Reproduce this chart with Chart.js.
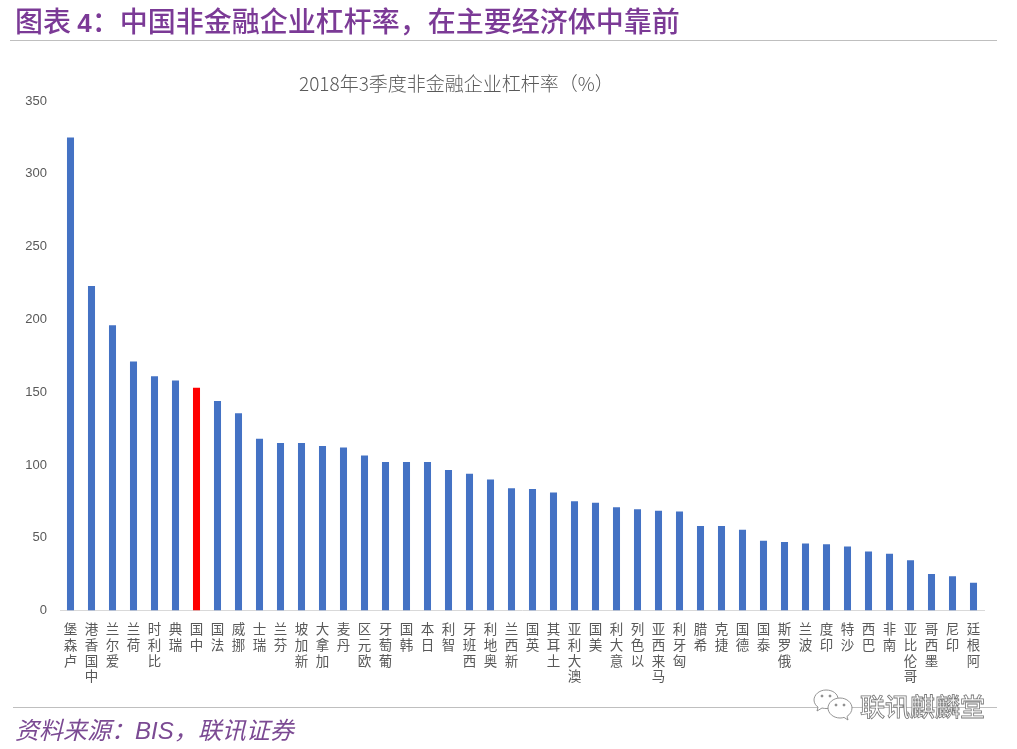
<!DOCTYPE html>
<html><head><meta charset="utf-8">
<style>
html,body{margin:0;padding:0;background:#fff;width:1017px;height:749px;overflow:hidden}
#wrap{position:relative;width:1017px;height:749px}
canvas{position:absolute;left:0;top:0}
.t{position:absolute;white-space:nowrap}
#head{left:15px;top:3px;font:500 28px/34px "Noto Sans CJK SC";color:#7B3A96}
#head b{font:700 26px/34px "Liberation Sans";color:#7B3A96}
#r1{position:absolute;left:10px;top:40px;width:987px;height:1px;background:#bfbfbf}
#r2{position:absolute;left:13px;top:707px;width:984px;height:1px;background:#bfbfbf}
#sub{left:299px;top:70px;font:300 19px/26px "Noto Sans CJK SC";color:#595959}
#src{left:15px;top:713px;font:italic 24px/32px "Noto Sans CJK SC";color:#7B4A93}
#src i{font:italic 24px/32px "Liberation Sans"}
#wm{left:860px;top:690px;font:500 25px/30px "Noto Sans CJK SC";color:#fff;-webkit-text-stroke:0.8px #777}
#ic{position:absolute;left:812px;top:688px}
</style></head><body>
<div id="wrap">
<canvas id="c" width="1017" height="749" style="width:1017px;height:749px"></canvas>
<div id="head" class="t">图表 <b>4</b>：中国非金融企业杠杆率，在主要经济体中靠前</div>
<div id="r1"></div>
<div id="sub" class="t">2018年3季度非金融企业杠杆率（%）</div>
<div id="r2"></div>
<div id="src" class="t">资料来源：<i>BIS</i>，联讯证券</div>
<svg id="ic" width="44" height="34" viewBox="0 0 44 34" fill="#fff" stroke="#888" stroke-width="0.9">
<path d="M14 2C7 2 2 7 2 12c0 3 2 6 4 7l-1 4 5-3c2 .5 3 .5 5 .5C22 20 26 16 26 11S21 2 14 2z"/>
<path d="M28 10c-7 0-12 5-12 10s5 10 12 10c1.500 0 3-.2 4-.6l4 2.600-1-3.600c3-2 5-5 5-8.400 0-5-5-10-12-10z"/>
<circle cx="10" cy="8" r="1" fill="#888"/><circle cx="18" cy="8" r="1" fill="#888"/>
<circle cx="24" cy="17" r="1" fill="#888"/><circle cx="32" cy="17" r="1" fill="#888"/>
</svg>
<div id="wm" class="t">联讯麒麟堂</div>
</div>
<script src="https://cdn.jsdelivr.net/npm/chart.js@4"></script>
<script>
const categories=["卢森堡","中国香港","爱尔兰","荷兰","比利时","瑞典","中国","法国","挪威","瑞士","芬兰","新加坡","加拿大","丹麦","欧元区","葡萄牙","韩国","日本","智利","西班牙","奥地利","新西兰","英国","土耳其","澳大利亚","美国","意大利","以色列","马来西亚","匈牙利","希腊","捷克","德国","泰国","俄罗斯","波兰","印度","沙特","巴西","南非","哥伦比亚","墨西哥","印尼","阿根廷"];
const leverage=[325,223,196,171,161,158,153,144,135.5,118,115,115,113,112,106.5,102,102,102,96.5,94,90,84,83.5,81,75,74,71,69.5,68.5,68,58,58,55.5,48,47,46,45.5,44,40.5,39,34.5,25,23.5,19];
const highlight="中国";
const blue="#4472C4",red="#FF0000",grey="#595959";
new Chart(document.getElementById("c"),{
 type:"bar",
 data:{labels:categories.map(s=>[...s].reverse()),
  datasets:[{data:leverage,backgroundColor:categories.map(c=>c===highlight?red:blue),barPercentage:0.335,categoryPercentage:1}]},
 options:{responsive:false,animation:false,devicePixelRatio:1,
  layout:{padding:{top:101,left:0,right:33,bottom:0}},
  plugins:{legend:{display:false},tooltip:{enabled:false},title:{display:false}},
  scales:{
   x:{grid:{display:false,drawTicks:false},border:{color:"#d9d9d9"},
      afterFit(s){s.height=138.5},
      ticks:{maxRotation:0,minRotation:0,autoSkip:false,padding:11,color:grey,font:{family:"Noto Sans CJK SC",size:13.5,lineHeight:1.16}}},
   y:{min:0,max:350,grid:{display:false,drawTicks:false},border:{display:false},
      afterFit(s){s.width=60},
      ticks:{stepSize:50,padding:13,color:grey,font:{family:"Liberation Sans",size:13}}}
  }}
});
</script>
</body></html>
